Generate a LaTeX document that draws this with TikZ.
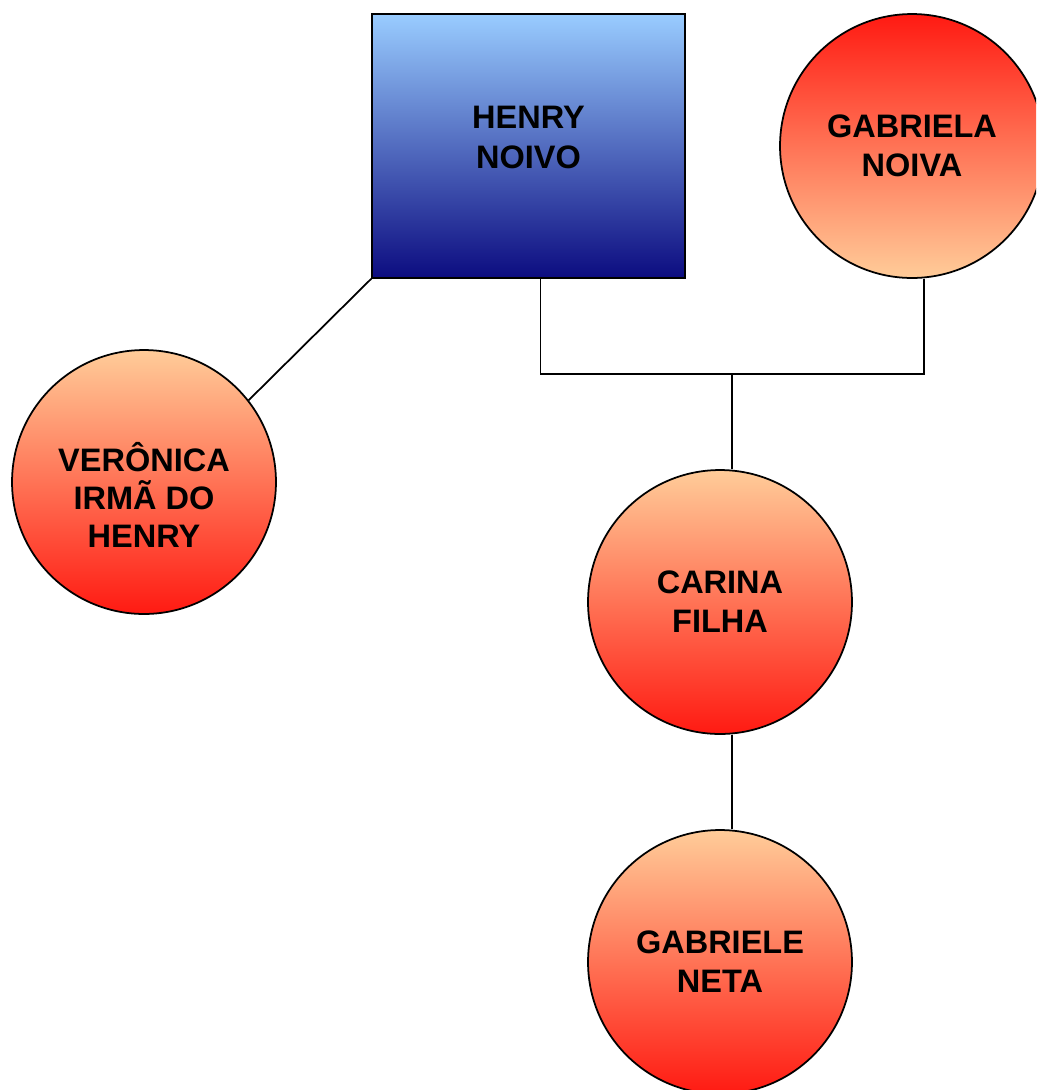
\documentclass[tikz,border=0pt]{standalone}
\usepackage{fontspec}
\setmainfont{Liberation Sans}
\usepackage{tikz}
\usetikzlibrary{positioning}

\definecolor{azulclaro}{HTML}{99CCFF}
\definecolor{azulescuro}{HTML}{0C0C80}
\definecolor{pessego}{HTML}{FFCC99}
\definecolor{vermelho}{HTML}{FF1A12}

\begin{document}
\begin{tikzpicture}[x=0.02cm, y=-0.02cm, line width=1pt,
		pessoa/.style={draw, align=center, font=\fontsize{18.5}{21.8}\selectfont\bfseries, text height=1.2cm, text depth=0cm, inner sep=0pt},
		homem/.style={pessoa, rectangle, minimum width=6.26cm, minimum height=5.28cm, top color=azulclaro, bottom color=azulescuro, text height=0.88cm},
		mulher/.style={pessoa, circle, minimum size=5.28cm, top color=pessego, bottom color=vermelho},
		noiva/.style={mulher, top color=vermelho, bottom color=pessego}]
					\useasboundingbox (0,0) rectangle (1036,1090);
					\clip (0,0) rectangle (1036,1090);
					\node[homem, font=\fontsize{18.5}{22.7}\selectfont\bfseries] (henry) at (528.5,146) {HENRY\\NOIVO};
					\node[noiva] (gabriela) at (912,146) {GABRIELA\\NOIVA};
					\node[mulher, text height=2.64cm] (veronica) at (144,482) {VERÔNICA\\IRMÃ DO\\HENRY};
					\node[mulher] (carina) at (720,602) {CARINA\\FILHA};
					\node[mulher] (gabriele) at (720,962) {GABRIELE\\NETA};
					\coordinate (uniao) at (732,374);
					\draw (henry.south west) -- (veronica.38);
					\draw ([xshift=0.24cm]henry.south) |- (uniao) -| ([xshift=0.24cm]gabriela.south);
					\draw (uniao) -- (uniao |- carina.north);
					\draw ([xshift=0.24cm]carina.south) -- ([xshift=0.24cm]gabriele.north);
				\end{tikzpicture}
\end{document}
